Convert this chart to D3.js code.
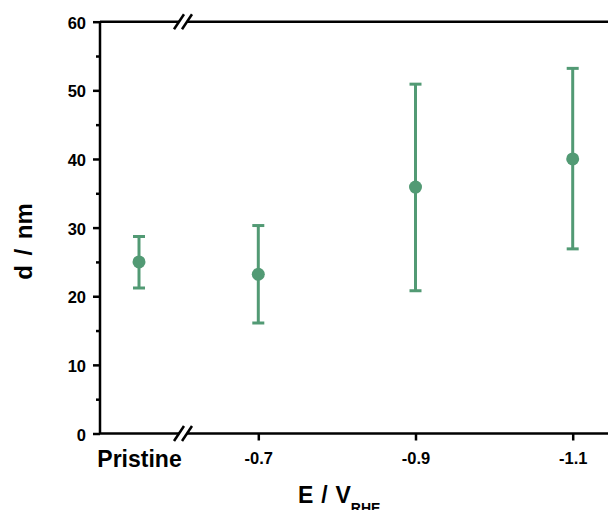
<!DOCTYPE html>
<html>
<head>
<meta charset="utf-8">
<script src="https://cdn.jsdelivr.net/npm/d3@7"></script>
<style>
  html, body { margin: 0; padding: 0; background: #fff; overflow: hidden; }
  svg { display: block; }
  text { font-family: "Liberation Sans", Arial, sans-serif; font-weight: bold; fill: #000; }
</style>
</head>
<body>
<script>
// ---- data ----
const categories = ["Pristine", "-0.7", "-0.9", "-1.1"];
const potentials = [null, -0.7, -0.9, -1.1];
const means = [25.0, 23.2, 35.9, 40.0];
const upper = [28.7, 30.3, 50.9, 53.2];
const lower = [21.2, 16.1, 20.8, 26.9];
const yTicks = [0, 10, 20, 30, 40, 50, 60];
const yMinorTicks = [5, 15, 25, 35, 45, 55];

const W = 608, H = 510;
const color = "#529a74";
const plotLeft = 100, plotTop = 21.7, plotBottom = 433.5, breakX = 183;

const svg = d3.select("body").append("svg").attr("width", W).attr("height", H);

const y = d3.scaleLinear().domain([0, 60]).range([plotBottom, plotTop]);
const xCat = d3.scalePoint().domain(["Pristine"]).range([plotLeft, 178]);
const xNum = d3.scaleLinear().domain([-0.6, -1.2]).range([179.7, 651.3]);
const xPos = (i) => potentials[i] === null ? xCat(categories[i]) : xNum(potentials[i]);

const data = categories.map((c, i) => ({ c, i, m: means[i], lo: lower[i], hi: upper[i] }));

// ---- frame lines ----
svg.append("line").attr("x1", plotLeft).attr("x2", W + 10).attr("y1", plotTop).attr("y2", plotTop)
  .attr("stroke", "#000").attr("stroke-width", 2.5);
svg.append("line").attr("x1", plotLeft).attr("x2", W + 10).attr("y1", plotBottom).attr("y2", plotBottom)
  .attr("stroke", "#000").attr("stroke-width", 2.5);

// ---- y axis ----
const yAxis = svg.append("g").attr("transform", `translate(${plotLeft},0)`)
  .call(d3.axisLeft(y).tickValues(yTicks).tickSize(7).tickPadding(7).tickFormat(d3.format("d")));
yAxis.select(".domain").attr("stroke-width", 2.5).attr("d", `M0,${plotBottom}V${plotTop}`);
yAxis.selectAll(".tick line").attr("stroke-width", 2.5);
yAxis.selectAll(".tick text").attr("font-size", 16.5).attr("dy", "0.4em");

const yMinor = svg.append("g").attr("transform", `translate(${plotLeft},0)`)
  .call(d3.axisLeft(y).tickValues(yMinorTicks).tickSize(4).tickFormat(""));
yMinor.select(".domain").remove();
yMinor.selectAll(".tick line").attr("stroke-width", 2.5);

// ---- x axis (numeric part) ----
const xAxis = svg.append("g").attr("transform", `translate(0,${plotBottom})`)
  .call(d3.axisBottom(xNum).tickValues(potentials.slice(1)).tickSize(7).tickPadding(12)
    .tickFormat((d, i) => categories[i + 1]));
xAxis.select(".domain").remove();
xAxis.selectAll(".tick line").attr("stroke-width", 2.5);
xAxis.selectAll(".tick text").attr("font-size", 16.5);

// ---- x axis (Pristine part) ----
const xAxisCat = svg.append("g").attr("transform", `translate(0,${plotBottom})`)
  .call(d3.axisBottom(xCat).tickSize(0).tickPadding(17));
xAxisCat.select(".domain").remove();
xAxisCat.selectAll(".tick text").attr("font-size", 23);

// ---- axis breaks ----
function drawBreak(cy) {
  const g = svg.append("g");
  g.append("polygon")
    .attr("points", `${breakX - 4 + 5},${cy - 7.5} ${breakX + 4 + 5},${cy - 7.5} ${breakX + 4 - 5},${cy + 7.5} ${breakX - 4 - 5},${cy + 7.5}`)
    .attr("fill", "#fff");
  [-4, 4].forEach(dx => {
    g.append("line")
      .attr("x1", breakX + dx - 5).attr("y1", cy + 7.5)
      .attr("x2", breakX + dx + 5).attr("y2", cy - 7.5)
      .attr("stroke", "#000").attr("stroke-width", 2.5);
  });
}
drawBreak(plotTop);
drawBreak(plotBottom);

// ---- error bars ----
const eb = svg.append("g").attr("stroke", color).attr("stroke-width", 3);
eb.selectAll(".v").data(data).join("line")
  .attr("x1", d => xPos(d.i)).attr("x2", d => xPos(d.i))
  .attr("y1", d => y(d.lo)).attr("y2", d => y(d.hi));
eb.selectAll(".capHi").data(data).join("line")
  .attr("x1", d => xPos(d.i) - 6).attr("x2", d => xPos(d.i) + 6)
  .attr("y1", d => y(d.hi)).attr("y2", d => y(d.hi));
eb.selectAll(".capLo").data(data).join("line")
  .attr("x1", d => xPos(d.i) - 6).attr("x2", d => xPos(d.i) + 6)
  .attr("y1", d => y(d.lo)).attr("y2", d => y(d.lo));

svg.append("g").selectAll("circle").data(data).join("circle")
  .attr("cx", d => xPos(d.i)).attr("cy", d => y(d.m)).attr("r", 6.5)
  .attr("fill", color);

// ---- axis titles ----
svg.append("text")
  .attr("transform", "translate(31.7,241.5) rotate(-90)")
  .attr("text-anchor", "middle").attr("font-size", 24)
  .attr("word-spacing", 3)
  .attr("xml:space", "preserve")
  .text("d / nm");

const xt = svg.append("text").attr("x", 298).attr("y", 503.3).attr("font-size", 23)
  .attr("word-spacing", 1.5);
xt.append("tspan").text("E / V");
xt.append("tspan").attr("dy", 10).attr("font-size", 14).attr("word-spacing", 0).text("RHE");
</script>
</body>
</html>
